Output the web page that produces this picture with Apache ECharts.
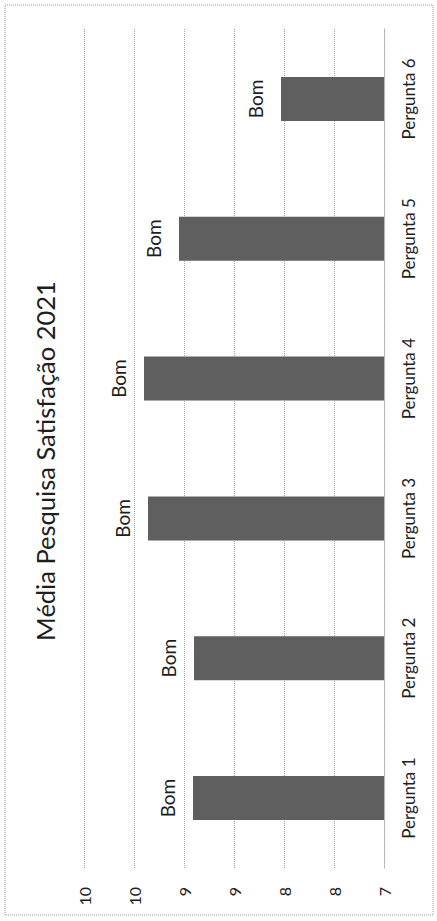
<!DOCTYPE html>
<html>
<head>
<meta charset="utf-8">
<script src="https://cdn.jsdelivr.net/npm/echarts@6/dist/echarts.min.js"></script>
<style>
  html, body { margin: 0; padding: 0; background: #ffffff; }
  #wrap { position: relative; width: 437px; height: 921px; overflow: hidden; background: #ffffff; }
  #chart { position: absolute; left: 0; top: 0; width: 921px; height: 437px;
           transform-origin: 0 0; transform: translate(0px, 921px) rotate(-90deg); }
</style>
</head>
<body>
<div id="wrap"><div id="chart"></div></div>
<script>
const titleText = 'Média Pesquisa Satisfação 2021';
const categories = ['Pergunta 1', 'Pergunta 2', 'Pergunta 3', 'Pergunta 4', 'Pergunta 5', 'Pergunta 6'];
const values = [8.91, 8.90, 9.36, 9.40, 9.05, 8.03];
const barLabels = ['Bom', 'Bom', 'Bom', 'Bom', 'Bom', 'Bom'];
const tickLabels = ['7', '8', '8', '9', '9', '10', '10'];
const axisMin = 7, axisMax = 10, axisStep = 0.5;

const FONT = 'Lato';
const chart = echarts.init(document.getElementById('chart'), null, { renderer: 'svg' });
chart.setOption({
  backgroundColor: '#ffffff',
  animation: false,
  textStyle: { fontFamily: FONT },
  graphic: [
    { type: 'rect', shape: { x: 6, y: 5, width: 910, height: 428 },
      style: { fill: 'none', stroke: '#9a9a9a', lineWidth: 1, lineDash: [1, 1] }, silent: true },
    { type: 'text', x: 460, y: 45,
      style: { text: titleText, fontFamily: FONT, fontSize: 25.5, fill: '#1e1e1e', textAlign: 'center', textVerticalAlign: 'middle' } }
  ],
  grid: { left: 53, right: 29, top: 84, bottom: 53, containLabel: false },
  xAxis: {
    type: 'category',
    data: categories,
    axisLine: { show: true, lineStyle: { color: '#a8a8a8', width: 1, type: 'dotted' } },
    axisTick: { show: false },
    axisLabel: { color: '#1e1e1e', fontSize: 17, fontFamily: FONT, margin: 16 }
  },
  yAxis: {
    type: 'value',
    min: axisMin, max: axisMax, interval: axisStep,
    axisLine: { show: false },
    axisTick: { show: false },
    axisLabel: {
      color: '#1e1e1e', fontSize: 16, fontFamily: FONT, margin: 19,
      formatter: function (v) { return tickLabels[Math.round((v - axisMin) / axisStep)]; }
    },
    splitLine: { show: true, lineStyle: { color: '#a8a8a8', width: 1, type: 'dotted' } }
  },
  series: [{
    type: 'bar',
    data: values,
    barWidth: 44,
    itemStyle: { color: '#5f5f5f' },
    label: {
      show: true, position: 'top', distance: 16,
      color: '#1e1e1e', fontSize: 19, fontFamily: FONT,
      formatter: function (p) { return barLabels[p.dataIndex]; }
    }
  }]
});
</script>
</body>
</html>
